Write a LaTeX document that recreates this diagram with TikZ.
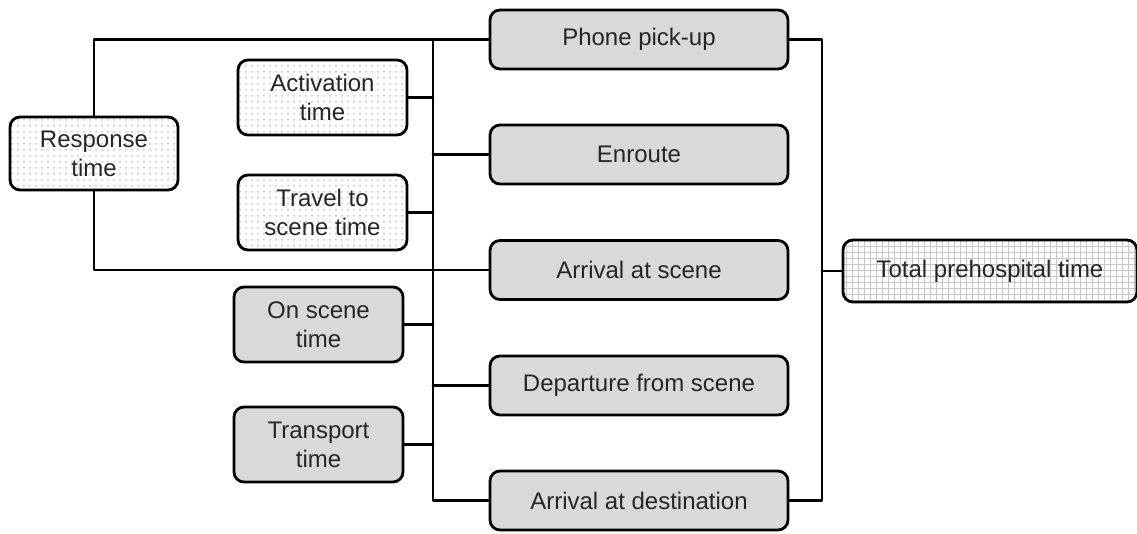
\documentclass[tikz,border=0pt]{standalone}
\usepackage{fontspec}
\setmainfont{Liberation Sans}
\usetikzlibrary{positioning,patterns}
\definecolor{boxgray}{HTML}{D9D9D9}
\definecolor{txtgray}{HTML}{262626}
\begin{document}
\begin{tikzpicture}[x=0.5pt,y=-0.5pt,
        line width=1.4pt, line cap=round, line join=round,
        font=\fontsize{12}{14.5}\selectfont,
        every node/.style={text=txtgray, align=center},
        % Boxes of the two columns
        stage/.style={draw, rounded corners=5pt, fill=boxgray,
            minimum width=149pt, minimum height=29.5pt},
        phase/.style={draw, rounded corners=5pt, fill=boxgray,
            minimum width=84.5pt, minimum height=37.5pt},
        dotted box/.style={preaction={fill=white}, pattern=dots,
            pattern color=black!22},
        grid box/.style={preaction={fill=white}, pattern=grid,
            pattern color=black!22}
    ]
    \useasboundingbox (0,0) rectangle (1137,534);

    % (1) Right column: the events
    \node[stage] (phone) at (639,39.5) {Phone pick-up};
    \node[stage] (enroute) at (639,154.5) {Enroute};
    \node[stage] (arrscene) at (639,270) {Arrival at scene};
    \node[stage] (depscene) at (639,385.5) {Departure from scene};
    \node[stage] (arrdest) at (639,500.5) {Arrival at destination};

    % (2) Middle column: the intervals
    \node[phase, dotted box] (activ) at (322.5,97.5) {Activation\\time};
    \node[phase, dotted box] (travel) at (322.5,212.5) {Travel to\\scene time};
    \node[phase] (onscene) at (318.5,324.5) {On scene\\time};
    \node[phase] (transp) at (318.5,444.5) {Transport\\time};

    % (3) Response time and total time
    \node[phase, dotted box, minimum width=84pt, minimum height=36.5pt]
        (response) at (94,153.5) {Response\\time};
    \node[stage, grid box, minimum width=147pt, minimum height=31pt]
        (total) at (990,271) {Total prehospital time};

    % (4) Spines
    \coordinate (spine) at (433,39.5);
    \coordinate (rspine) at (822,39.5);

    \draw (phone.west) -- (spine) -- (spine |- arrdest.west) -- (arrdest.west);
    \foreach \s in {enroute,arrscene,depscene}
        \draw (spine |- \s.west) -- (\s.west);
    \foreach \p in {activ,travel,onscene,transp}
        \draw (\p.east) -- (\p.east -| spine);

    \draw (phone.east) -| (rspine |- arrdest.east) -- (arrdest.east);
    \draw (rspine |- total.west) -- (total.west);

    % (5) Response time bracket
    \draw (response.north) |- (phone.west);
    \draw (response.south) |- (arrscene.west);
\end{tikzpicture}
\end{document}
